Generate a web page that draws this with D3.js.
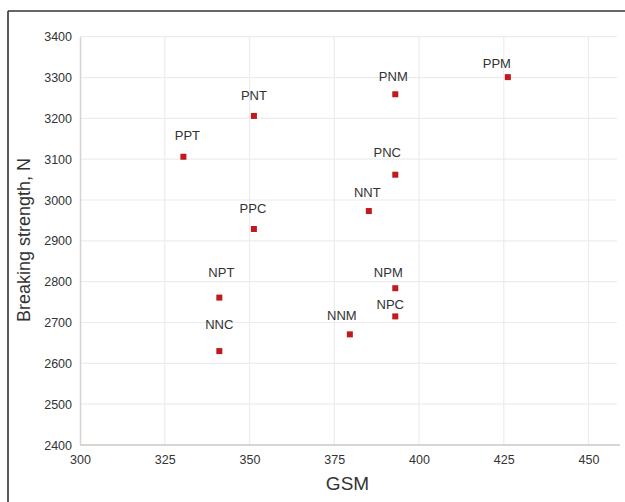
<!DOCTYPE html>
<html>
<head>
<meta charset="utf-8">
<script src="https://cdn.jsdelivr.net/npm/d3@7"></script>
<style>
  html, body { margin: 0; padding: 0; background: #fff; }
  svg { display: block; }
  text { font-family: "Liberation Sans", Arial, sans-serif; }
</style>
</head>
<body>
<svg id="chart" width="625" height="502"></svg>
<script>
const labels = ["PPT", "PNT", "PPC", "NPT", "NNC", "PNM", "PPM", "PNC", "NNT", "NPM", "NPC", "NNM"];
const gsm = [330.5, 351.3, 351.3, 341.1, 341.1, 393.0, 426.2, 393.0, 385.2, 393.0, 393.0, 379.6];
const strength = [3106, 3206, 2929, 2761, 2630, 3259, 3301, 3062, 2973, 2784, 2715, 2671];
const xTicks = [300, 325, 350, 375, 400, 425, 450];
const yTicks = [2400, 2500, 2600, 2700, 2800, 2900, 3000, 3100, 3200, 3300, 3400];

const svg = d3.select("#chart");
const mL = 80, mR = 617, mT = 36.7, mB = 445;

const x = d3.scaleLinear().domain([300, 458.4]).range([mL, mR]);
const y = d3.scaleLinear().domain([2400, 3400]).range([mB, mT]);

// manual label placement (dx, baseline dy) as in the original figure
const labelShift = {
  PPT: [4, -17], PNT: [0, -16], PPC: [-1, -16], NPT: [2, -21], NNC: [0, -22],
  PNM: [-2, -13], PPM: [-11, -9], PNC: [-8, -18], NNT: [-1.5, -14],
  NPM: [-7, -11], NPC: [-5, -7], NNM: [-8, -14]
};

// frame
svg.append("line").attr("x1", 8).attr("x2", 625).attr("y1", 11).attr("y2", 11)
  .attr("stroke", "#333").attr("stroke-width", 1.6);
svg.append("line").attr("x1", 8).attr("x2", 8).attr("y1", 11).attr("y2", 502)
  .attr("stroke", "#333").attr("stroke-width", 1.6);

// gridlines
svg.append("g").selectAll("line").data(yTicks.slice(1)).join("line")
  .attr("x1", mL).attr("x2", mR)
  .attr("y1", d => y(d)).attr("y2", d => y(d))
  .attr("stroke", "#ececec").attr("stroke-width", 1.2);
svg.append("g").selectAll("line").data(xTicks.slice(1)).join("line")
  .attr("x1", d => x(d)).attr("x2", d => x(d))
  .attr("y1", mT).attr("y2", mB)
  .attr("stroke", "#ececec").attr("stroke-width", 1.2);

// axes
const xAxis = svg.append("g").attr("transform", `translate(0,${mB})`)
  .call(d3.axisBottom(x).tickValues(xTicks).tickFormat(d3.format("d")).tickSize(0).tickPadding(10));
xAxis.select(".domain").attr("stroke", "#cfc7c3").attr("stroke-width", 1.5).attr("d", `M${mL},0H${mR + 3}`);
xAxis.selectAll("text").attr("font-size", 12.5).attr("fill", "#333");

const yAxis = svg.append("g").attr("transform", `translate(${mL},0)`)
  .call(d3.axisLeft(y).tickValues(yTicks).tickFormat(d3.format("d")).tickSize(0).tickPadding(8));
yAxis.select(".domain").attr("stroke", "#d9d3cf").attr("stroke-width", 1.5);
yAxis.selectAll("text").attr("font-size", 12.5).attr("fill", "#333");

// axis titles
svg.append("text").attr("x", (mL + mR) / 2 - 1).attr("y", 490)
  .attr("text-anchor", "middle").attr("font-size", 19).attr("fill", "#333")
  .text("GSM");
svg.append("text").attr("transform", "translate(30,240) rotate(-90)")
  .attr("text-anchor", "middle").attr("font-size", 18).attr("fill", "#333")
  .text("Breaking strength, N");

// points
const pts = labels.map((l, i) => ({ l, gx: gsm[i], s: strength[i] }));
svg.append("g").selectAll("rect").data(pts).join("rect")
  .attr("x", d => x(d.gx) - 3).attr("y", d => y(d.s) - 3)
  .attr("width", 6).attr("height", 6).attr("fill", "#c0191e");
svg.append("g").selectAll("text").data(pts).join("text")
  .attr("x", d => x(d.gx) + labelShift[d.l][0])
  .attr("y", d => y(d.s) + labelShift[d.l][1])
  .attr("text-anchor", "middle").attr("font-size", 13).attr("fill", "#333")
  .text(d => d.l);
</script>
</body>
</html>
